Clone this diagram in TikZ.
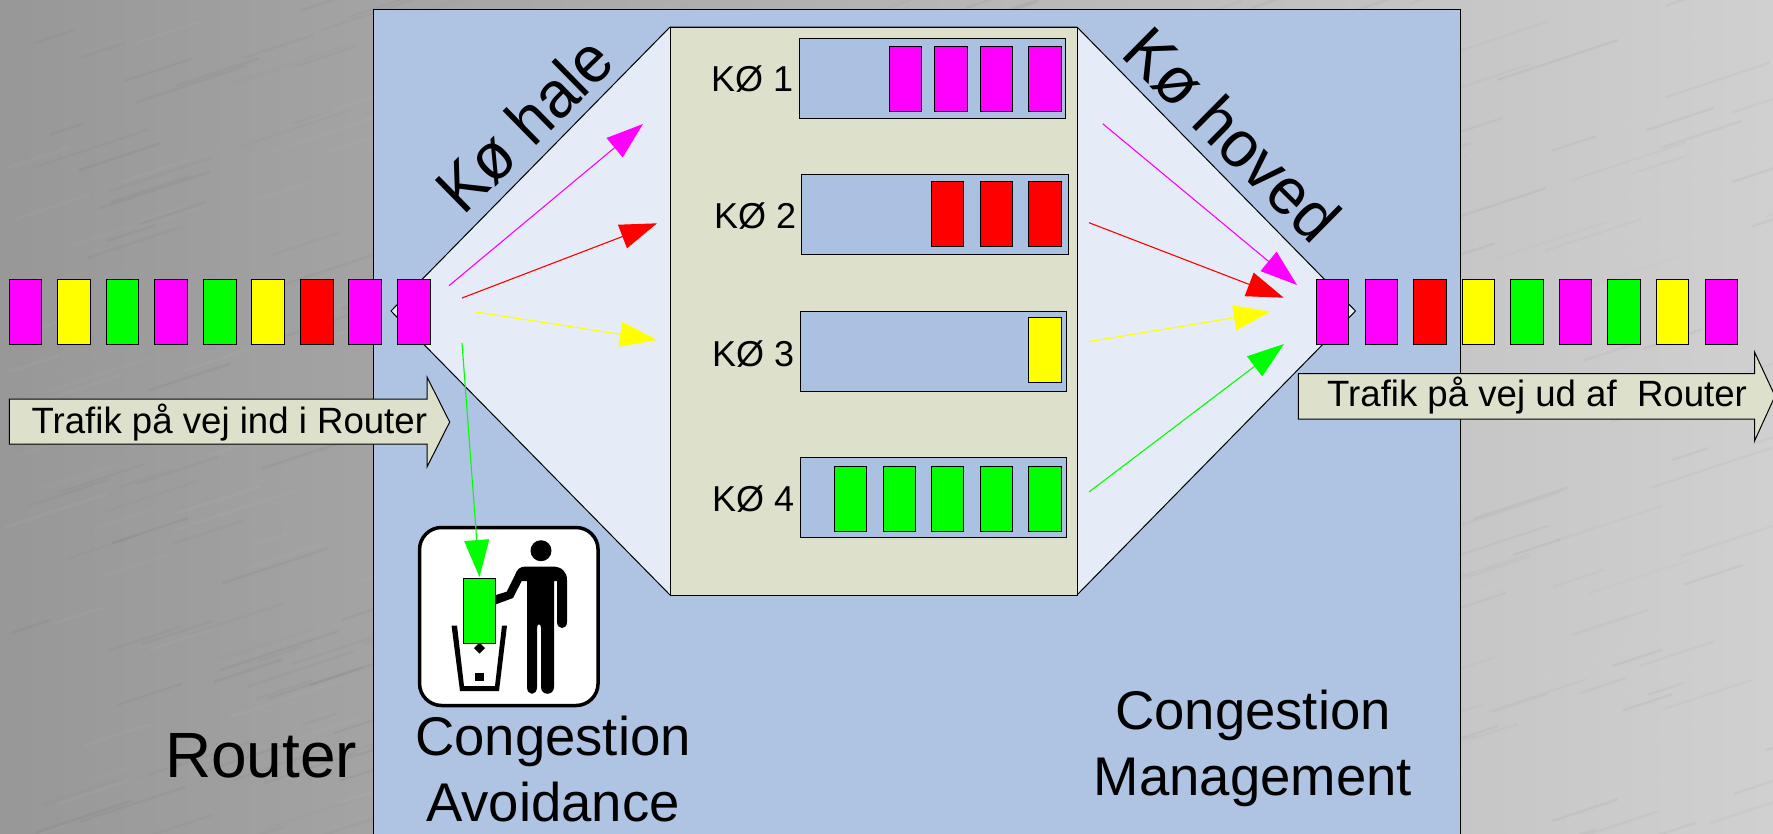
\documentclass[tikz,border=0pt]{standalone}
\usepackage{fontspec}
\setmainfont{Liberation Sans}
\usetikzlibrary{arrows.meta}
\definecolor{routerblue}{HTML}{AFC4E3}
\definecolor{queueblue}{HTML}{ABC1E2}
\definecolor{palefan}{HTML}{E6ECF7}
\definecolor{khaki}{HTML}{DDE1CC}
\definecolor{bgA}{HTML}{939393}
\definecolor{bgB}{HTML}{D8D8D8}
\definecolor{pM}{HTML}{FF00FF}
\definecolor{pR}{HTML}{FF0000}
\definecolor{pY}{HTML}{FFFF00}
\definecolor{pG}{HTML}{00FF00}
\newcommand{\fs}[1]{\fontsize{#1}{#1}\selectfont}
\tikzset{
  pkt/.style={draw=black,line width=1pt,minimum width=32.5pt,minimum height=65pt,inner sep=0pt,anchor=center},
  queuebox/.style={draw=black,line width=1pt,fill=queueblue,minimum width=266.5pt,minimum height=80pt,inner sep=0pt},
  flow/.style={draw=#1,line width=1.1pt,-{Triangle[length=37pt,width=25pt,fill=#1]}},
  txt/.style={inner sep=0pt,anchor=base west,text=black},
  qlabel/.style={txt,font=\fs{36}},
  biglabel/.style={txt,font=\fs{64}},
  slantlabel/.style={txt,font=\fs{66}},
  twolabel/.style={inner sep=0pt,align=center,font=\fontsize{54.5}{65.5}\selectfont,text=black},
  bigarrow/.style={draw=black,line width=1pt,fill=khaki},
}
\pgfdeclarehorizontalshading{metal}{100bp}{
  color(0bp)=(bgA); color(21bp)=(bgA); color(82bp)=(bgB); color(100bp)=(bgB)}
\begin{document}
\begin{tikzpicture}[x=1pt,y=-1pt]
\useasboundingbox (0,0) rectangle (1773,833);
\begin{scope}
\clip (0,0) rectangle (1773,833);
\shade[shading=metal] (0,0) rectangle (1773,833);
\pgfmathsetseed{7}
\foreach \i in {1,...,700}{
  \pgfmathsetmacro{\xa}{rnd*1773}
  \pgfmathsetmacro{\ya}{rnd*880}
  \pgfmathsetmacro{\ll}{30+rnd*90}
  \pgfmathsetmacro{\oo}{0.012+rnd*0.025}
  \ifodd\i
    \draw[white,line width=2.5pt,opacity=\oo,line cap=round] (\xa,\ya) -- ++(\ll,-0.33*\ll);
  \else
    \draw[black,line width=2.5pt,opacity=\oo,line cap=round] (\xa,\ya) -- ++(\ll,-0.33*\ll);
  \fi
}
% router body
\node[draw=black,line width=1.2pt,fill=routerblue,minimum width=1087pt,minimum height=840pt,inner sep=0pt,anchor=north west] (router) at (372.5,8.5) {};
\end{scope}
% fan
\coordinate (tipL) at (391,311);
\coordinate (tipR) at (1355.5,311);
\coordinate (ctl) at (670,27);
\coordinate (ctr) at (1077,27);
\coordinate (cbl) at (670,595);
\coordinate (cbr) at (1077,595);
\draw[black,line width=1pt,fill=palefan] (tipL) -- (ctl) -- (ctr) -- (tipR) -- (cbr) -- (cbl) -- cycle;
\node[draw=black,line width=1.1pt,fill=khaki,minimum width=407pt,minimum height=568pt,inner sep=0pt,anchor=north west] (core) at (670,27) {};
% queues
\node[queuebox,anchor=north west] (q1) at (798.7,37.5) {};
\node[queuebox,anchor=north west] (q2) at (801.2,174) {};
\node[queuebox,anchor=north west] (q3) at (799.5,311) {};
\node[queuebox,anchor=north west] (q4) at (799.5,457.3) {};
% queue packets
\foreach \n/\x in {a/905.5,b/951,c/996.5,d/1044.8}
  \node[pkt,fill=pM] (q1\n) at (\x,78.5) {};
\foreach \n/\x in {a/947.5,b/996.5,c/1044.8}
  \node[pkt,fill=pR] (q2\n) at (\x,214.3) {};
\node[pkt,fill=pY] (q3a) at (1044.8,350) {};
\foreach \n/\x in {a/850.5,b/899.3,c/947.7,d/996.4,e/1044.8}
  \node[pkt,fill=pG] (q4\n) at (\x,498.5) {};
% queue labels
\node[qlabel] (k1) at (711,91.7) {KØ 1};
\node[qlabel] (k2) at (714,228) {KØ 2};
\node[qlabel] (k3) at (712,366) {KØ 3};
\node[qlabel] (k4) at (712,511.7) {KØ 4};
% trash sign
\node[draw=black,line width=3.5pt,fill=white,rounded corners=22pt,minimum width=178.5pt,minimum height=178pt,inner sep=0pt] (sign) at (508.8,616.5) {};
\fill[black] (541,550.7) circle (10.5);
\fill[black] (496,595) -- (506.7,591.7) -- (515,575) .. controls (517,569) and (520,566.5) .. (526,566.5) -- (552,566.5)
  .. controls (562,566.5) and (567,572) .. (567,580) -- (567,622) .. controls (567,630) and (557,630) .. (557,622)
  -- (557,581) -- (554,581) -- (554,687) .. controls (554,696) and (541,696) .. (541,687) -- (541,628)
  .. controls (541,623) and (537,623) .. (537,628) -- (537,687) .. controls (537,696) and (527,696) .. (527,687)
  -- (527,581) -- (521.7,581) -- (513,598) -- (496,604.3) -- cycle;
\fill[black] (451.5,625.5) -- (457,625.5) -- (464,686) -- (495,686) -- (502,625.5) -- (507,625.5) -- (499,691) -- (460,691) -- cycle;
\fill[black] (479.5,642.5) -- (485,648) -- (479.5,653.5) -- (474,648) -- cycle;
\fill[black] (475,673) rectangle (483.5,680.5);
\node[pkt,fill=pG] (trashpkt) at (479.6,610.5) {};
% packet rows
\foreach \n/\x/\c in {1/25.6/pM,2/74/pY,3/122.7/pG,4/171.2/pM,5/219.8/pG,6/268.2/pY,7/316.8/pR,8/365.2/pM,9/413.8/pM}
  \node[pkt,fill=\c] (l\n) at (\x,311.5) {};
\foreach \n/\x/\c in {1/1332.7/pM,2/1381.3/pM,3/1429.8/pR,4/1478.4/pY,5/1527/pG,6/1575.5/pM,7/1624/pG,8/1672.7/pY,9/1721.3/pM}
  \node[pkt,fill=\c] (r\n) at (\x,311.5) {};
% flow arrows
\coordinate (lmS) at (449,285.7); \coordinate (lmT) at (643,124);
\coordinate (lrS) at (462,298);   \coordinate (lrT) at (657,223.3);
\coordinate (lyS) at (476,312);   \coordinate (lyT) at (657,340);
\coordinate (lgS) at (462,343);   \coordinate (lgT) at (479.5,577);
\coordinate (rmS) at (1102.7,123.7); \coordinate (rmT) at (1297,285);
\coordinate (rrS) at (1089,222.7);   \coordinate (rrT) at (1283.7,297.7);
\coordinate (ryS) at (1088,341.7);   \coordinate (ryT) at (1270.7,311.7);
\coordinate (rgS) at (1089,492);     \coordinate (rgT) at (1284,344);
\draw[flow=pM] (lmS) -- (lmT);
\draw[flow=pR] (lrS) -- (lrT);
\draw[flow=pY] (lyS) -- (lyT);
\draw[flow=pG] (lgS) -- (lgT);
\draw[flow=pM] (rmS) -- (rmT);
\draw[flow=pR] (rrS) -- (rrT);
\draw[flow=pY] (ryS) -- (ryT);
\draw[flow=pG] (rgS) -- (rgT);
% big arrows
\draw[bigarrow] (9.3,399) -- (427,399) -- (427,377) -- (449.7,422) -- (427,467) -- (427,444) -- (9.3,444) -- cycle;
\node[txt,font=\fs{36.6}] (inlabel) at (31.5,433) {Trafik på vej ind i Router};
\draw[bigarrow] (1298.3,373.5) -- (1754.5,373.5) -- (1754.5,352) -- (1775,396) -- (1754.5,441) -- (1754.5,419) -- (1298.3,419) -- cycle;
\node[txt,font=\fs{36.6}] (outlabel) at (1327,406.7) {Trafik på vej ud af\ \ Router};
% large labels
\node[slantlabel,rotate=44.5] (hale) at (463.5,216.5) {\scalebox{0.95}[1]{Kø hale}};
\node[slantlabel,rotate=-44.7] (hoved) at (1119.4,55) {\scalebox{0.96}[1]{Kø hoved}};
\node[biglabel] (rlabel) at (165,777) {Router};
\node[twolabel] (ca) at (553,769) {Congestion\\Avoidance};
\node[twolabel] (cm) at (1253,748.5) {Congestion\\Management};
\end{tikzpicture}
\end{document}
